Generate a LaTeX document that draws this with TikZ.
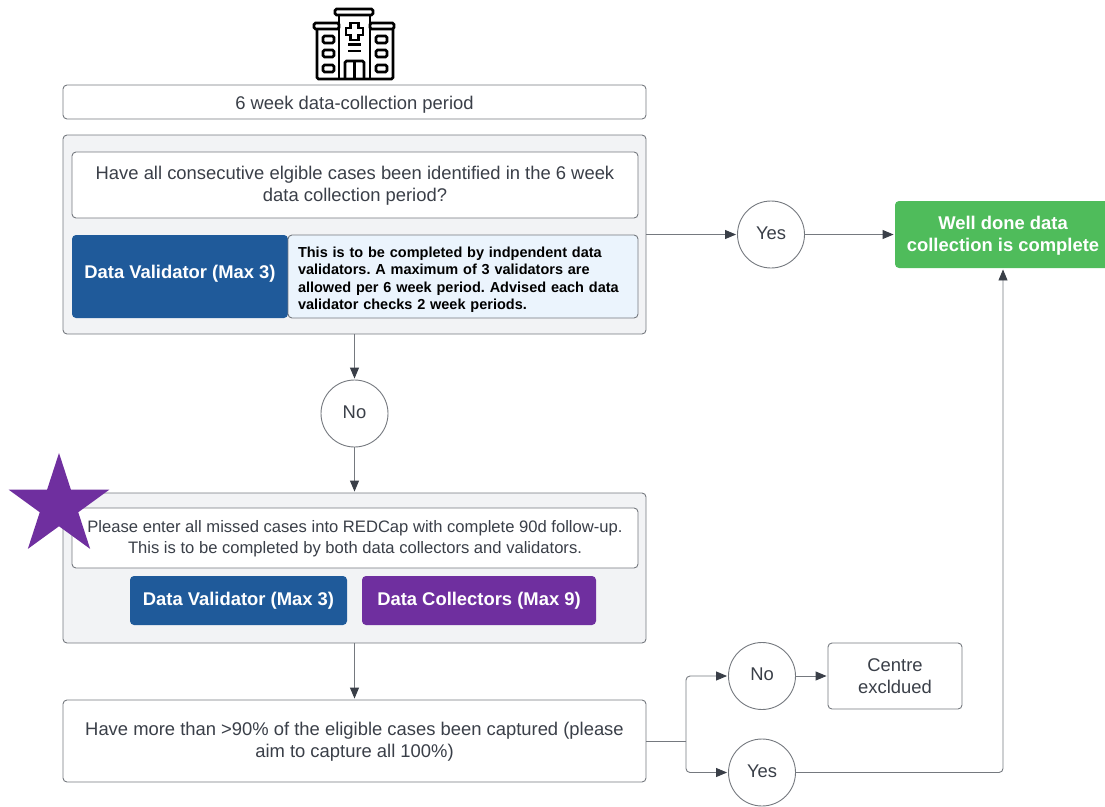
\documentclass[tikz,border=0pt]{standalone}
\usepackage{fontspec}
\setmainfont{Liberation Sans}
\usetikzlibrary{
  arrows.meta,
  shapes.geometric,
  chains,
  scopes
}
\definecolor{inkgrey}{HTML}{3A3F48}
\definecolor{edgegrey}{HTML}{75797F}
\definecolor{panelgrey}{HTML}{F2F3F5}
\definecolor{validatorblue}{HTML}{1F5A9A}
\definecolor{noteblue}{HTML}{EBF4FD}
\definecolor{collectorpurple}{HTML}{6F2F9F}
\definecolor{donegreen}{HTML}{4FBC5B}

\begin{document}
\frenchspacing
\begin{tikzpicture}[
      x=1pt,y=-1pt,
      textbox/.style={
         rectangle,
         rounded corners=4pt,
         inner sep=0pt,
         draw=edgegrey,
         fill=white,
         text=inkgrey,
         align=center,
         line width=0.9pt,
         font=\fontsize{18.4}{22}\selectfont
      },
      panel/.style={
         textbox,
         fill=panelgrey,
         minimum width=583pt
      },
      role/.style={
         textbox,
         draw=none,
         text=white,
         font=\fontsize{18.4}{22}\selectfont\bfseries
      },
      answer/.style={
         circle,
         inner sep=0pt,
         minimum size=67pt,
         draw=edgegrey,
         fill=white,
         text=inkgrey,
         line width=0.9pt,
         text depth=3.5pt,
         font=\fontsize{18.4}{22}\selectfont
      },
      point/.style={coordinate},
      >={Triangle[length=11pt,width=9pt,color=inkgrey]},
      tip/.style={->,shorten >=1pt},
      every join/.style={draw=edgegrey,line width=0.9pt,rounded corners=4pt},
      vh path/.style={to path={|- (\tikztotarget)}},
      hv path/.style={to path={-| (\tikztotarget)}},
    ]
    \useasboundingbox (0,0) rectangle (1105,806);

    \node (period) [textbox, minimum width=583pt, minimum height=34pt, text height=18pt] at (354.5,102) {6 week data-collection period};

    \node (panel1) [panel, minimum height=199pt] at (354.5,234.5) {};
    \node (ask1) [textbox, minimum width=566pt, minimum height=66pt, text height=37.5pt] at (355,185) {Have all consecutive elgible cases been identified in the 6 week\\data collection period?};
    \node (validator1) [role, fill=validatorblue, minimum width=216pt, minimum height=83pt, text depth=10pt] at (180,276.5) {Data Validator (Max 3)};
    \node (note1) [textbox, fill=noteblue, minimum width=350pt, minimum height=83pt, text=black, text width=330pt, align=left, text height=16.5pt, font=\fontsize{14.5}{17.5}\selectfont\bfseries] at (463,276.5) {This is to be completed by indpendent data\\validators. A maximum of 3 validators are\\allowed per 6 week period. Advised each data\\validator checks 2 week periods.};

    \node (yes1) [answer] at (771,234.5) {Yes};
    \node (done) [role, fill=donegreen, minimum width=216pt, minimum height=67pt, text height=37.5pt] at (1003,234.5) {Well done data\\collection is complete};
    \node (no1) [answer] at (354.5,413.5) {No};

    \node (panel2) [panel, minimum height=150pt] at (354.5,568) {};
    \node (ask2) [textbox, minimum width=566pt, minimum height=60pt, text height=35pt, font=\fontsize{16.6}{21}\selectfont] at (355,538) {Please enter all missed cases into REDCap with complete 90d follow-up.\\This is to be completed by both data collectors and validators.};
    \node (validator2) [role, fill=validatorblue, minimum width=217pt, minimum height=49pt] at (238.5,600.5) {Data Validator (Max 3)};
    \node (collectors) [role, fill=collectorpurple, minimum width=234pt, minimum height=49pt] at (479,600.5) {Data Collectors (Max 9)};

    \node (ask3) [panel, fill=white, minimum height=82pt, text height=37.5pt] at (354.5,741) {Have more than >90\% of the eligible cases been captured (please\\aim to capture all 100\%)};
    \node (fork) [point] at (686,741) {};
    \node (no2) [answer] at (762,676) {No};
    \node (excluded) [textbox, minimum width=134pt, minimum height=66pt] at (895,676) {Centre\\excldued};
    \node (yes2) [answer] at (762,772.5) {Yes};

    \node (star) [star, star points=5, star point ratio=2.618, fill=collectorpurple, inner sep=0pt, minimum size=106pt] at (59,506) {};

    { [start chain]
       \chainin (panel1);
       \chainin (yes1)    [join=by tip];
       \chainin (done)    [join=by tip];
    }
    { [start chain]
       \chainin (panel1);
       \chainin (no1)     [join=by tip];
       \chainin (panel2)  [join=by tip];
       \chainin (ask3)    [join=by tip];
       \chainin (fork)    [join];
       \chainin (no2)     [join=by {vh path,tip}];
       \chainin (excluded) [join=by tip];
    }
    { [start chain]
       \chainin (fork);
       \chainin (yes2)    [join=by {vh path,tip}];
       \chainin (done)    [join=by {hv path,tip}];
    }

    \begin{scope}[draw=black, line width=2.8pt, rounded corners=1.5pt]
       \draw (335,9) rectangle (373,15);
       \draw (314,23) rectangle (339,29);
       \draw (370,23) rectangle (394,29);
       \draw (339,15) -- (339,79);
       \draw (370,15) -- (370,79);
       \draw (317,29) -- (317,79) -- (393,79) -- (393,29);
       \foreach \winy in {36,50,65} {
          \draw (323,\winy) rectangle (334,\winy+7);
          \draw (376,\winy) rectangle (387,\winy+7);
       }
       \draw[rounded corners=0pt] (350.5,23) -- (358.5,23) -- (358.5,28) -- (363,28) -- (363,35) -- (358.5,35) -- (358.5,40) -- (350.5,40) -- (350.5,35) -- (346,35) -- (346,28) -- (350.5,28) -- cycle;
       \draw (348,44.5) -- (361,44.5);
       \draw (348,51) -- (361,51);
       \draw (345,79) -- (345,61) -- (364,61) -- (364,79);
       \draw (354.5,61) -- (354.5,79);
    \end{scope}
\end{tikzpicture}
\end{document}
